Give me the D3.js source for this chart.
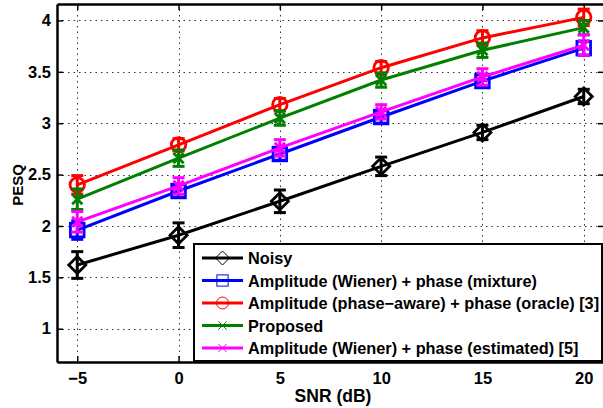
<!DOCTYPE html>
<html>
<head>
<meta charset="utf-8">
<script src="https://cdn.jsdelivr.net/npm/d3@7"></script>
<style>
  body { margin: 0; background: #fff; }
  svg { display: block; font-family: "Liberation Sans", Arial, sans-serif; font-weight: bold; }
</style>
</head>
<body>
<div id="chart"></div>
<script>
// values
var snr = [-5, 0, 5, 10, 15, 20];
var xTicks = [-5, 0, 5, 10, 15, 20];
var yTicks = [1, 1.5, 2, 2.5, 3, 3.5, 4];

var noisy = [1.62, 1.91, 2.24, 2.58, 2.91, 3.26];
var noisyErr = [0.13, 0.12, 0.11, 0.09, 0.07, 0.07];
var mixture = [1.96, 2.34, 2.70, 3.06, 3.41, 3.73];
var mixtureErr = [0.09, 0.06, 0.06, 0.06, 0.06, 0.07];
var oracle = [2.40, 2.79, 3.18, 3.54, 3.83, 4.03];
var oracleErr = [0.09, 0.06, 0.06, 0.06, 0.07, 0.08];
var proposed = [2.26, 2.66, 3.05, 3.42, 3.71, 3.93];
var proposedErr = [0.10, 0.08, 0.07, 0.07, 0.07, 0.07];
var estimated = [2.04, 2.39, 2.76, 3.11, 3.45, 3.76];
var estimatedErr = [0.10, 0.08, 0.08, 0.07, 0.08, 0.10];

var series = [
    {name: 'Noisy', v: noisy, e: noisyErr, color: '#000000', marker: 'diamond'},
    {name: 'Amplitude (Wiener) + phase (mixture)', v: mixture, e: mixtureErr, color: '#0000ff', marker: 'square'},
    {name: 'Amplitude (phase\u2212aware) + phase (oracle) [3]', v: oracle, e: oracleErr, color: '#ff0000', marker: 'circle'},
    {name: 'Proposed', v: proposed, e: proposedErr, color: '#008000', marker: 'x'},
    {name: 'Amplitude (Wiener) + phase (estimated) [5]', v: estimated, e: estimatedErr, color: '#ff00ff', marker: 'x'}
];

var W = 603, H = 408;
var plotL = 57, plotR = 604, plotT = 4, plotB = 362;

var svg = d3.select('#chart').append('svg')
    .attr('width', W)
    .attr('height', H);

var x = d3.scaleLinear().domain([-6, 21]).range([plotL, plotR]);
var y = d3.scaleLinear().domain([0.676, 4.16]).range([plotB, plotT]);

// grid
var grid = svg.append('g')
    .attr('stroke', '#333')
    .attr('stroke-width', 1)
    .attr('stroke-dasharray', '1.5,4');
grid.selectAll('.gx').data(xTicks).enter().append('line')
    .attr('x1', function(d) { return Math.round(x(d)) + 0.5; })
    .attr('x2', function(d) { return Math.round(x(d)) + 0.5; })
    .attr('y1', plotT).attr('y2', plotB);
grid.selectAll('.gy').data(yTicks).enter().append('line')
    .attr('y1', function(d) { return Math.round(y(d)) + 0.5; })
    .attr('y2', function(d) { return Math.round(y(d)) + 0.5; })
    .attr('x1', plotL).attr('x2', plotR);

// axes (ticks pointing inward, like matlab)
svg.append('g')
    .attr('class', 'axis')
    .attr('transform', 'translate(0,' + plotB + ')')
    .call(d3.axisBottom(x).tickValues(xTicks).tickSizeInner(-6).tickSizeOuter(0).tickPadding(10)
        .tickFormat(function(d) { return d < 0 ? '\u2212' + Math.abs(d) : d; }));
svg.append('g')
    .attr('class', 'axis')
    .attr('transform', 'translate(' + plotL + ',0)')
    .call(d3.axisLeft(y).tickValues(yTicks).tickSizeInner(-6).tickSizeOuter(0).tickPadding(6)
        .tickFormat(d3.format('')));
svg.append('g')
    .attr('class', 'axis')
    .attr('transform', 'translate(0,' + plotT + ')')
    .call(d3.axisTop(x).tickValues(xTicks).tickSizeInner(-6).tickSizeOuter(0).tickFormat(''));
svg.append('g')
    .attr('class', 'axis')
    .attr('transform', 'translate(' + plotR + ',0)')
    .call(d3.axisRight(y).tickValues(yTicks).tickSizeInner(-6).tickSizeOuter(0).tickFormat(''));

svg.selectAll('.axis .domain').attr('stroke', '#000').attr('stroke-width', 2.5);
svg.selectAll('.axis line').attr('stroke', '#000').attr('stroke-width', 1.5);
svg.selectAll('.axis text')
    .attr('fill', '#000')
    .style('font-size', '16.5px')
    .style('font-weight', 'bold')
    .style('font-family', '"Liberation Sans", Arial, sans-serif');

// axis labels
svg.append('text')
    .attr('x', 333).attr('y', 402)
    .attr('text-anchor', 'middle')
    .style('font-size', '17.5px')
    .text('SNR (dB)');
svg.append('text')
    .attr('transform', 'translate(23,185) rotate(-90)')
    .attr('text-anchor', 'middle')
    .style('font-size', '15px')
    .text('PESQ');

function drawMarker(g, type, color, size, sw) {
    if (type === 'diamond') {
        g.append('path').attr('d', 'M0,' + (-size) + 'L' + size + ',0L0,' + size + 'L' + (-size) + ',0Z')
            .attr('fill', 'none').attr('stroke', color).attr('stroke-width', sw);
    } else if (type === 'square') {
        var s = size * 0.8;
        g.append('rect').attr('x', -s).attr('y', -s).attr('width', 2 * s).attr('height', 2 * s)
            .attr('fill', 'none').attr('stroke', color).attr('stroke-width', sw);
    } else if (type === 'circle') {
        g.append('circle').attr('r', size * 0.85)
            .attr('fill', 'none').attr('stroke', color).attr('stroke-width', sw);
    } else {
        var a = size * 0.6;
        g.append('path').attr('d', 'M' + (-a) + ',' + (-a) + 'L' + a + ',' + a + 'M' + (-a) + ',' + a + 'L' + a + ',' + (-a))
            .attr('fill', 'none').attr('stroke', color).attr('stroke-width', sw);
    }
}

var line = d3.line()
    .x(function(d) { return x(d[0]); })
    .y(function(d) { return y(d[1]); });

series.forEach(function(s) {
    var pts = snr.map(function(v, i) { return [v, s.v[i], s.e[i]]; });
    var g = svg.append('g');
    g.append('path')
        .datum(pts)
        .attr('d', line)
        .attr('fill', 'none')
        .attr('stroke', s.color)
        .attr('stroke-width', 3);
    // error bars
    var eb = g.selectAll('.eb').data(pts).enter().append('g')
        .attr('stroke', s.color)
        .attr('stroke-width', 3);
    eb.append('line')
        .attr('x1', function(d) { return x(d[0]); })
        .attr('x2', function(d) { return x(d[0]); })
        .attr('y1', function(d) { return y(d[1] - d[2]); })
        .attr('y2', function(d) { return y(d[1] + d[2]); });
    [-1, 1].forEach(function(sg) {
        eb.append('line')
            .attr('x1', function(d) { return x(d[0]) - 6; })
            .attr('x2', function(d) { return x(d[0]) + 6; })
            .attr('y1', function(d) { return y(d[1] + sg * d[2]); })
            .attr('y2', function(d) { return y(d[1] + sg * d[2]); });
    });
    pts.forEach(function(d) {
        var m = g.append('g').attr('transform', 'translate(' + x(d[0]) + ',' + y(d[1]) + ')');
        drawMarker(m, s.marker, s.color, 8.5, 2.8);
    });
});

// legend
var lg = svg.append('g').attr('transform', 'translate(194,244)');
lg.append('rect')
    .attr('x', 0).attr('y', 0)
    .attr('width', 408).attr('height', 117)
    .attr('fill', '#fff')
    .attr('stroke', '#000')
    .attr('stroke-width', 2);
series.forEach(function(s, i) {
    var row = lg.append('g').attr('transform', 'translate(0,' + (14 + i * 22.5) + ')');
    row.append('line')
        .attr('x1', 8).attr('x2', 49)
        .attr('y1', 0).attr('y2', 0)
        .attr('stroke', s.color).attr('stroke-width', 3);
    var m = row.append('g').attr('transform', 'translate(28.5,0)');
    drawMarker(m, s.marker, s.color, 7, 1);
    row.append('text')
        .attr('x', 54).attr('y', 6)
        .style('font-size', '16.3px')
        .text(s.name);
});
</script>
</body>
</html>
